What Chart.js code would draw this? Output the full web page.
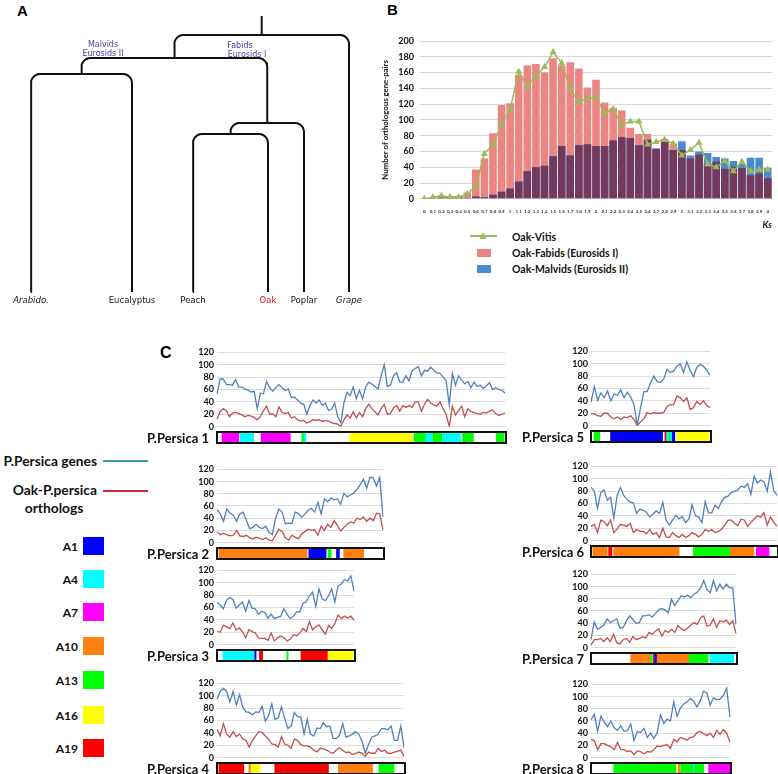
<!DOCTYPE html>
<html lang="en">
<head>
<meta charset="utf-8">
<title>Oak orthologs figure</title>
<style>
  body { margin: 0; background: #fff; }
  #page { position: relative; width: 778px; height: 774px; overflow: hidden; background: #fff; font-family: Lato, "Open Sans", sans-serif; }
  .t { position: absolute; white-space: nowrap; line-height: 1; }
  .chr { position: absolute; border: 2px solid #111; box-sizing: border-box; background: #fff; }
  .chr canvas { display: block; }
  .sw { position: absolute; }
</style>
</head>
<body>
<div id="page"></div>

<script src="https://cdn.jsdelivr.net/npm/chart.js@4.4.0/dist/chart.umd.min.js"></script>
<script>
// ---------- panel A : tree ----------
var treeLeaves = ['Arabido.', 'Eucalyptus', 'Peach', 'Oak', 'Poplar', 'Grape'];
var leafX = [31, 132, 193, 268, 304, 349];
var leafBase = 292;
var rootTop = 16;
// internal nodes: children (leaf index or node name) and depth from top
var treeNodes = {
  n0: { kids: [0, 1], depth: 74 },
  n1: { kids: [2, 3], depth: 134 },
  n2: { kids: ['n1', 4], depth: 123 },
  n3: { kids: ['n0', 'n2'], depth: 58 },
  root: { kids: ['n3', 5], depth: 35 }
};

// ---------- panel B : Ks distribution ----------
var ksLabels = ['0','0,1','0,2','0,3','0,4','0,5','0,6','0,7','0,8','0,9','1','1,1','1,2','1,3','1,4','1,5','1,6','1,7','1,8','1,9','2',
  '2,1','2,2','2,3','2,4','2,5','2,6','2,7','2,8','2,9','3','3,1','3,2','3,3','3,4','3,5','3,6','3,7','3,8','3,9','4'];
var oakFabids = [0,1,3,3,3,8,37,51,83,119,121,157,169,171,160,178,169,173,165,141,151,122,115,112,90,82,82,63,76,70,62,51,56,44,47,38,41,39,30,32,26];
var oakMalvids = [0,1,3,3,3,1,3,2,5,9,13,22,35,40,42,54,67,55,68,69,67,67,74,78,77,68,75,64,72,62,73,55,60,58,53,51,48,44,52,52,39];
var oakVitis = [0,2,4,2,2,6,16,57,69,95,114,161,142,156,167,186,172,139,123,127,129,108,114,94,98,98,69,72,75,70,55,62,71,44,40,48,35,47,35,37,37];
var ksTicks = [0,20,40,60,80,100,120,140,160,180,200];

// ---------- panel C : gene / ortholog density per P. persica chromosome ----------
var genesChr1 = [52,77,77,68,68,67,76,64,64,61, 59,56,57,29,54,53,73,63,57,63, 68,63,58,61,47,48,43,38,36,20,
  34,43,38,43,34,38,26,28,38,16, 6,39,55,50,64,45,59,45,64,72, 69,65,61,82,100,65,67,82,87,72,
  72,82,74,90,94,97,82,91,90,96, 91,87,86,80,74,35,86,67,82,75, 69,73,63,72,65,67,62, 66,71,60,63,60,59,54];
var orthoChr1 = [12,24,29,26,16,22,23,21,19,16, 18,17,15,11,16,26,33,20,21,16, 32,23,21,23,14,16,11,9,10,6,
  8,11,10,11,8,10,9,6,5,4, 0,11,19,14,24,14,23,16,29,36, 29,24,19,29,36,20,21,30,34,25,
  34,31,34,31,40,40,25,36,44,38, 35,33,40,29,20,0,33,19,26,33, 16,29,24,23,21,20,23, 22,25,27,21,18,20,22];
var genesChr2 = [54,47,35,55,48,45,35,47,50,37, 23,25,30,25,23,27,17,13,40,55, 50,31,32,31,50,48,41,47,53,56,
  50,66,47,72,67,73,70,72,63,81, 75,78,81,87,95,104,89,107,106,93, 107,42];
var orthoChr2 = [18,13,15,13,11,12,20,11,10,12, 8,6,9,7,5,8,4,3,12,22, 18,8,4,12,9,6,14,18,22,20,
  21,12,27,20,30,25,36,28,19,25, 30,34,32,40,38,42,35,40,36,48, 47,20];
var genesChr3 = [68,64,58,72,76,73,59,64,69,54, 71,59,58,49,54,52,43,49,42,44, 46,58,49,42,46,53,53,67,69,79,
  85,62,90,74,71,79,90,69,95,98, 105,103,111,87];
var orthoChr3 = [22,20,31,29,26,35,24,27,21,11, 24,21,19,11,10,10,7,19,6,11, 14,11,6,9,16,14,19,26,21,37,
  24,29,32,24,17,31,26,34,48,42, 46,43,46,39];
var genesChr4 = [94,107,112,107,90,107,85,102,82,74, 73,69,74,73,83,59,68,87,62,64, 82,63,47,51,73,66,66,38,62,38,
  35,48,47,56,50,51,31,31,36,55, 33,35,38,42,38,26,7,21,33,35, 38,47,47,45,51,28,28,51,16];
var orthoChr4 = [46,35,55,38,33,42,34,38,30,28, 17,28,35,42,41,35,30,22,21,17, 34,22,20,15,30,28,21,19,19,17,
  12,9,15,14,12,9,7,12,16,12, 8,9,5,7,9,7,2,9,7,7, 15,10,12,7,7,9,10,12,2];
var genesChr5 = [38,63,41,53,45,56,40,51,49,58, 45,54,46,34,1,29,55,55,69,80, 71,70,75,91,86,88,96,100,86,103,
  89,79,94,99,96,90,81];
var orthoChr5 = [19,19,16,15,20,20,14,11,14,10, 14,13,16,10,0,6,11,21,19,21, 20,20,21,31,34,34,48,45,39,45,
  26,29,39,34,40,33,29];
var genesChr6 = [86,80,52,78,82,65,70,36,73,86, 73,67,62,61,44,51,49,46,38,43, 48,44,62,33,25,33,41,35,39,29,
  35,58,40,38,29,63,45,45,57,52, 63,70,72,78,80,82,88,86,92,75, 104,93,98,95,80,111,81,73];
var orthoChr6 = [23,26,13,33,31,24,33,13,19,26, 25,23,28,13,18,15,15,11,18,10, 13,5,20,6,5,13,8,5,10,5,
  8,13,10,6,10,18,15,18,13,15, 18,25,33,33,28,24,35,33,23,29, 35,40,38,45,25,38,30,23];
var genesChr7 = [13,42,30,33,37,47,41,44,47,32, 33,44,52,46,40,41,52,52,54,50, 56,62,64,62,57,79,69,77,85,83,
  86,82,88,91,98,110,95,90,110,93, 104,96,104,98,98,38];
var orthoChr7 = [4,13,13,15,10,16,10,22,8,6, 13,15,9,18,13,15,18,16,25,22, 27,31,19,28,25,30,25,36,31,28,
  32,37,41,38,49,52,35,37,47,33, 44,42,45,38,44,23];
var genesChr8 = [62,71,43,68,58,51,60,49,45,52, 43,44,55,28,43,41,48,33,40,31, 41,70,56,63,60,91,68,81,88,91,
  97,93,83,93,109,106,86,98,95,96, 102,114,66];
var orthoChr8 = [30,28,13,23,23,20,18,13,25,13, 13,10,11,5,11,10,6,10,9,13, 19,18,20,21,15,30,26,33,31,29,
  33,34,41,43,39,36,40,33,45,38, 46,40,25];
var densityTicks = [0,20,40,60,80,100,120];

// oak chromosome blocks along each chromosome (% of length)
var segChr1 = [['A7',1.4,7.2],['A4',7.6,12.4],['A7',15,25.2],['A13',29.2,29.9],['A4',29.9,30.6],['A16',45.9,67.6],
  ['A13',68.3,72.4],['A4',72.4,74.5],['A13',74.8,78.1],['A4',78.3,84.5],['A13',85.2,89],['A13',97,99.7]];
var segChr2 = [['A10',0.6,54],['A1',55,65.5],['A13',66.7,68.5],['A1',71.8,73.6],['A10',76.2,88.3]];
var segChr3 = [['A4',3.6,26.3],['A1',27,28],['A19',30.4,32.8],['A13',50.6,51.6],['A19',61,80.5],['A16',81,99.3]];
var segChr4 = [['A19',0.5,13.9],['A10',16.6,17.5],['A16',17.8,22.5],['A19',30.5,59.4],['A10',64.7,83.1],['A13',86.5,94.7]];
var segChr5 = [['A13',1.7,6.5],['A1',15.7,59.8],['A19',61.8,63],['A4',63.5,65.5],['A13',65.5,66.5],['A4',66.5,67.5],
  ['A1',68,70.2],['A16',71.6,99.4]];
var segChr6 = [['A10',0.5,8.2],['A19',9,10.8],['A10',11.8,47.1],['A13',54.8,74.9],['A10',74.9,87.5],['A7',88.8,95.7]];
var segChr7 = [['A10',26.9,40.6],['A13',40.6,41.8],['A19',42.5,43.4],['A1',43.6,45.2],['A10',45.2,67.4],['A13',67.4,80.6],['A4',82.2,98.4]];
var segChr8 = [['A13',15.7,60.9],['A10',62.4,63.8],['A13',64.3,80.9],['A4',73.3,74],['A7',84.5,100]];

var oakChrNames = ['A1', 'A4', 'A7', 'A10', 'A13', 'A16', 'A19'];
var oakChrColors = ['#0000ff', '#00ffff', '#ff00ff', '#ff7f0f', '#00ff00', '#ffff00', '#ff0000'];

// ------------------------------------------------------------------
Chart.defaults.font.family = "Lato, 'Open Sans', sans-serif";
Chart.defaults.animation = false;
Chart.defaults.plugins.legend.display = false;
Chart.defaults.plugins.tooltip.enabled = false;

var page = document.getElementById('page');

function mkCanvas(parent, l, t, w, h) {
  var c = document.createElement('canvas');
  c.width = w; c.height = h;
  c.style.position = parent === page ? 'absolute' : 'static';
  c.style.left = l + 'px'; c.style.top = t + 'px';
  c.style.width = w + 'px'; c.style.height = h + 'px';
  parent.appendChild(c);
  return c;
}

// text: align 'l' | 'c' | 'r', y is vertical centre
function txt(s, x, y, align, css) {
  var d = document.createElement('div');
  d.className = 't';
  d.textContent = s;
  d.style.left = x + 'px';
  d.style.top = y + 'px';
  var tx = align === 'r' ? '-100%' : (align === 'c' ? '-50%' : '0');
  d.style.transform = 'translate(' + tx + ',-50%)';
  d.style.cssText += ';' + (css || '');
  page.appendChild(d);
  return d;
}

function box(x, y, w, h, color) {
  var d = document.createElement('div');
  d.className = 'sw';
  d.style.cssText = 'left:' + x + 'px;top:' + y + 'px;width:' + w + 'px;height:' + h + 'px;background:' + color;
  page.appendChild(d);
  return d;
}

// ---------- A ----------
txt('A', 17, 10, 'l', 'font:bold 15px "Liberation Sans",Arial,sans-serif');

function nodeX(k) {
  if (typeof k === 'number') return leafX[k];
  var n = treeNodes[k];
  return (nodeX(n.kids[0]) + nodeX(n.kids[1])) / 2;
}
function nodeDepth(k) {
  return typeof k === 'number' ? leafBase : treeNodes[k].depth;
}
function bracketPath(name) {
  var n = treeNodes[name];
  var xl = nodeX(n.kids[0]), xr = nodeX(n.kids[1]), d = n.depth;
  var r = 9, pts = [], i, a;
  pts.push({ x: xl, y: nodeDepth(n.kids[0]) });
  for (i = 0; i <= 6; i++) {
    a = Math.PI * (1 + 0.5 * i / 6);
    pts.push({ x: xl + r + r * Math.cos(a), y: d + r + r * Math.sin(a) });
  }
  for (i = 0; i <= 6; i++) {
    a = Math.PI * (1.5 + 0.5 * i / 6);
    pts.push({ x: xr - r + r * Math.cos(a), y: d + r + r * Math.sin(a) });
  }
  pts.push({ x: xr, y: nodeDepth(n.kids[1]) });
  return pts;
}

var treeSets = Object.keys(treeNodes).map(function (k) {
  return { data: bracketPath(k), showLine: true, pointRadius: 0, borderColor: '#111', borderWidth: 2, tension: 0 };
});
treeSets.push({ data: [{ x: nodeX('root'), y: rootTop }, { x: nodeX('root'), y: treeNodes.root.depth }],
  showLine: true, pointRadius: 0, borderColor: '#111', borderWidth: 2 });

new Chart(mkCanvas(page, 0, 0, 370, 300), {
  type: 'scatter',
  data: { datasets: treeSets },
  options: {
    responsive: false, devicePixelRatio: 1,
    layout: { padding: 0 },
    scales: {
      x: { type: 'linear', min: 0, max: 370, display: false },
      y: { type: 'linear', min: 0, max: 300, reverse: true, display: false }
    }
  }
});

var leafFont = 'font:8.5px "DejaVu Sans",sans-serif;color:#111';
treeLeaves.forEach(function (name, i) {
  var css = leafFont;
  if (name === 'Arabido.' || name === 'Grape') css += ';font-style:italic';
  if (name === 'Oak') css += ';color:#e01010';
  txt(name, leafX[i], 300, 'c', css);
});
var cladeFont = 'font:8px "DejaVu Sans",sans-serif;color:#4444a4';
txt('Malvids', 103, 44, 'c', cladeFont);
txt('Eurosids II', 103, 53, 'c', cladeFont);
txt('Fabids', 240, 45, 'c', cladeFont);
txt('Eurosids I', 247, 54, 'c', cladeFont);

// ---------- B ----------
txt('B', 387, 9, 'l', 'font:bold 15px "Liberation Sans",Arial,sans-serif');

var overlap = oakFabids.map(function (v, i) { return Math.min(v, oakMalvids[i]); });

new Chart(mkCanvas(page, 372, 28, 406, 202), {
  type: 'bar',
  data: {
    labels: ksLabels,
    datasets: [
      { type: 'line', label: 'Oak-Vitis', data: oakVitis, order: 0, borderColor: '#9bbb59', borderWidth: 1.5,
        pointStyle: 'triangle', pointRadius: 2.6, pointBackgroundColor: '#9bbb59', pointBorderColor: '#9bbb59', tension: 0 },
      { label: 'overlap', data: overlap, order: 1, backgroundColor: '#733a5e', grouped: false,
        barPercentage: 0.88, categoryPercentage: 1 },
      { label: 'Oak-Malvids (Eurosids II)', data: oakMalvids, order: 2, backgroundColor: '#4a8bcc', grouped: false,
        barPercentage: 0.88, categoryPercentage: 1 },
      { label: 'Oak-Fabids (Eurosids I)', data: oakFabids, order: 3, backgroundColor: '#ec8482', grouped: false,
        barPercentage: 0.88, categoryPercentage: 1 }
    ]
  },
  options: {
    responsive: false, devicePixelRatio: 1,
    layout: { padding: { left: 0, right: 6, top: 13, bottom: 0 } },
    scales: {
      x: {
        grid: { display: false }, border: { color: '#d0d0d0' },
        ticks: { autoSkip: false, maxRotation: 0, minRotation: 0, padding: 2,
          font: { size: 4.5, weight: 'bold' }, color: '#333' },
        title: { display: true, text: 'Ks', align: 'end', padding: { top: 3, bottom: 0 },
          font: { size: 9, weight: 'bold', style: 'italic' }, color: '#111' }
      },
      y: {
        min: 0, max: 200,
        afterBuildTicks: function (s) { s.ticks = ksTicks.map(function (v) { return { value: v }; }); },
        afterFit: function (s) { s.width = 48; },
        grid: { color: '#d9d9d9', drawTicks: false }, border: { display: false },
        ticks: { autoSkip: false, padding: 6, font: { size: 9, weight: 'bold' }, color: '#111' },
        title: { display: true, text: 'Number of orthologous gene-pairs', padding: { top: 9, bottom: 0 },
          font: { size: 7.8, weight: 'bold' }, color: '#111' }
      }
    }
  }
});

// B legend
box(470, 235, 27, 2, '#9bbb59');
txt('\u25B2', 483, 235, 'c', 'font:9px "DejaVu Sans",sans-serif;color:#9bbb59');
box(477, 249, 14, 8, '#ec8482');
box(477, 265, 14, 8, '#4a8bcc');
var legB = 'font:bold 10.5px Lato,sans-serif;color:#111';
txt('Oak-Vitis', 512, 237, 'l', legB);
txt('Oak-Fabids (Eurosids I)', 512, 253, 'l', legB);
txt('Oak-Malvids (Eurosids II)', 512, 269, 'l', legB);

// ---------- C ----------
txt('C', 160, 353, 'l', 'font:bold 16px "Liberation Sans",Arial,sans-serif');

var legC = 'font:bold 12px Lato,sans-serif;color:#111';
var legC2 = 'font:bold 13.8px Lato,sans-serif;color:#111';
txt('P.Persica genes', 97, 460, 'r', legC2);
box(103, 460, 45, 2, '#3f98b5');
txt('Oak-P.persica', 97, 489, 'r', legC2);
box(103, 490, 45, 2, '#c8283c');
txt('orthologs', 54, 507, 'c', legC2);
var swatchY = [537, 570, 603, 637, 671, 706, 739];
oakChrNames.forEach(function (name, i) {
  box(83, swatchY[i], 21, 18, oakChrColors[i]);
  txt(name, 78, swatchY[i] + 9, 'r', legC);
});

var panels = [
  { name: 'P.Persica 1', genes: genesChr1, ortho: orthoChr1, seg: segChr1, l: 217, r: 505, top: 350, bot: 429 },
  { name: 'P.Persica 2', genes: genesChr2, ortho: orthoChr2, seg: segChr2, l: 217, r: 383, top: 467, bot: 545 },
  { name: 'P.Persica 3', genes: genesChr3, ortho: orthoChr3, seg: segChr3, l: 217, r: 354, top: 568, bot: 647 },
  { name: 'P.Persica 4', genes: genesChr4, ortho: orthoChr4, seg: segChr4, l: 217, r: 404, top: 681, bot: 760 },
  { name: 'P.Persica 5', genes: genesChr5, ortho: orthoChr5, seg: segChr5, l: 591, r: 710, top: 349, bot: 428 },
  { name: 'P.Persica 6', genes: genesChr6, ortho: orthoChr6, seg: segChr6, l: 591, r: 777, top: 464, bot: 543 },
  { name: 'P.Persica 7', genes: genesChr7, ortho: orthoChr7, seg: segChr7, l: 591, r: 736, top: 572, bot: 650 },
  { name: 'P.Persica 8', genes: genesChr8, ortho: orthoChr8, seg: segChr8, l: 591, r: 730, top: 682, bot: 760 }
];

panels.forEach(function (p) {
  var w = p.r - p.l;
  var idx = p.genes.map(function (v, i) { return i; });

  new Chart(mkCanvas(page, p.l - 30, p.top - 6, w + 31, p.bot - p.top + 12), {
    type: 'line',
    data: {
      labels: idx,
      datasets: [
        { label: 'P.Persica genes', data: p.genes, borderColor: '#4f81bd', borderWidth: 1.3, pointRadius: 0, tension: 0 },
        { label: 'Oak-P.persica orthologs', data: p.ortho, borderColor: '#c0504d', borderWidth: 1.3, pointRadius: 0, tension: 0 }
      ]
    },
    options: {
      responsive: false, devicePixelRatio: 1,
      layout: { padding: { left: 0, right: 1, top: 6, bottom: 6 } },
      scales: {
        x: { display: false, offset: false },
        y: {
          min: 0, max: 120,
          afterBuildTicks: function (s) { s.ticks = densityTicks.map(function (v) { return { value: v }; }); },
          afterFit: function (s) { s.width = 30; },
          grid: { color: '#dcdcdc', drawTicks: false }, border: { display: false },
          ticks: { autoSkip: false, padding: 3, font: { size: 9, weight: 'bold' }, color: '#111' }
        }
      }
    }
  });

  // chromosome bar coloured by oak chromosome
  var wrap = document.createElement('div');
  wrap.className = 'chr';
  wrap.style.left = (p.l - 1) + 'px';
  wrap.style.top = (p.bot + 2) + 'px';
  wrap.style.width = (w + 3) + 'px';
  wrap.style.height = '13px';
  page.appendChild(wrap);
  new Chart(mkCanvas(wrap, 0, 0, w - 1, 9), {
    type: 'bar',
    data: {
      labels: ['chr'],
      datasets: p.seg.map(function (s, i) {
        return { data: [[s[1], s[2]]], backgroundColor: oakChrColors[oakChrNames.indexOf(s[0])],
          grouped: false, barPercentage: 1, categoryPercentage: 1, order: -i };
      })
    },
    options: {
      responsive: false, devicePixelRatio: 1, indexAxis: 'y',
      layout: { padding: 0 },
      scales: { x: { min: 0, max: 100, display: false }, y: { display: false } }
    }
  });

  txt(p.name, p.l < 400 ? 209 : 584, p.bot + 9, 'r', 'font:bold 13px Lato,sans-serif;color:#111');
});
</script>
</body>
</html>
